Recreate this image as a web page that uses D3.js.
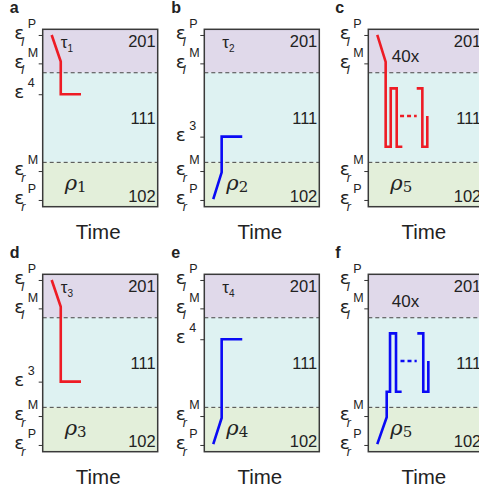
<!DOCTYPE html>
<html><head><meta charset="utf-8">
<script src="https://cdn.jsdelivr.net/npm/d3@7"></script>
<style>
html,body{margin:0;padding:0;background:#fff;}
svg{display:block;}
text{font-family:"Liberation Sans",Arial,Helvetica,sans-serif;fill:#222;}
</style></head>
<body>
<svg id="chart" width="479" height="494"></svg>
<script>
// ---------- data ----------
const panelLetters = ["a", "b", "c", "d", "e", "f"];
const panelLefts = [42.7, 204.3, 368.3, 42.7, 204.3, 368.3];
const panelTops = [29.3, 29.3, 29.3, 274.3, 274.3, 274.3];
const regionNames = ["201", "111", "102"];
const regionBounds = [[75.5, 100], [25, 75.5], [0, 25]];
const regionColors = ["#e0d9ea", "#def2f2", "#e3efda"];
const phaseBoundaries = [75.5, 25];
// strain levels (arbitrary units 0..100)
const levelValues = { lP: 96.8, lM: 80.8, e4: 63.4, e3: 39.5, rM: 20.1, rP: 3.8 };
const levelLabels = {
  lP: ["ε", "P", "l"], lM: ["ε", "M", "l"], e4: ["ε", "4", ""],
  e3: ["ε", "3", ""], rM: ["ε", "M", "r"], rP: ["ε", "P", "r"]
};
const panelTicks = [
  ["lP", "lM", "e4", "rM", "rP"],
  ["lP", "lM", "e3", "rM", "rP"],
  ["lP", "lM", "rM", "rP"],
  ["lP", "lM", "e3", "rM", "rP"],
  ["lP", "lM", "e4", "rM", "rP"],
  ["lP", "lM", "rM", "rP"]
];
const tauLabels = ["1", "2", null, "3", "4", null];
const rhoLabels = ["1", "2", "5", "3", "4", "5"];
const cycleLabel = [null, null, "40x", null, null, "40x"];
const lineColors = ["red", "blue", "red", "red", "blue", "blue"];

// strain paths: time (0..1) and strain
const pathTime = [
  [0.078, 0.157, 0.157, 0.333],
  [0.078, 0.151, 0.151, 0.330],
  [0.078, 0.151, 0.151, 0.195, 0.195, 0.247, 0.247, 0.296],
  [0.078, 0.157, 0.157, 0.333],
  [0.078, 0.151, 0.151, 0.330],
  [0.078, 0.160, 0.160, 0.189, 0.189, 0.241, 0.241, 0.290]
];
const pathStrain = [
  [96.8, 81.8, 63.4, 63.4],
  [4.3, 19.4, 39.5, 39.5],
  [96.8, 81.6, 33.8, 33.8, 66.7, 66.7, 33.8, 33.8],
  [96.8, 81.7, 39.5, 39.5],
  [4.3, 19.0, 63.4, 63.4],
  [4.3, 19.4, 33.8, 33.8, 66.7, 66.7, 33.8, 33.8]
];
// second cycle block (after the dots), only panels c and f
const path2Time = [null, null, [0.421, 0.470, 0.470, 0.513, 0.513], null, null, [0.426, 0.478, 0.478, 0.522, 0.522]];
const path2Strain = [null, null, [66.7, 66.7, 33.8, 33.8, 51.1], null, null, [66.7, 66.7, 33.8, 33.8, 51.1]];
const dotsTime = [null, null, [0.276, 0.421], null, null, [0.28, 0.421]];
const dotsStrain = [null, null, [51.1, 51.1], null, null, [51.1, 51.1]];

// ---------- drawing ----------
const W = 115, H = 177.4;
const colorMap = { red: "#ee1c25", blue: "#0a0af5" };
const svg = d3.select("#chart");

panelLetters.forEach((letter, i) => {
  const left = panelLefts[i], top = panelTops[i];
  const x = d3.scaleLinear().domain([0, 1]).range([0, W]);
  const y = d3.scaleLinear().domain([0, 100]).range([H, 0]);
  const g = svg.append("g").attr("transform", `translate(${left},${top})`);

  // regions
  regionBounds.forEach((b, k) => {
    g.append("rect").attr("x", 0).attr("y", y(b[1])).attr("width", W)
      .attr("height", y(b[0]) - y(b[1])).attr("fill", regionColors[k]);
  });
  // phase boundaries
  phaseBoundaries.forEach(v => {
    g.append("line").attr("x1", 0).attr("x2", W).attr("y1", y(v)).attr("y2", y(v))
      .attr("stroke", "#444").attr("stroke-width", 1).attr("stroke-dasharray", "4,3");
  });
  // region labels
  g.append("text").attr("x", W - 2).attr("y", 17.4).attr("text-anchor", "end")
    .attr("font-size", 16.5).text(regionNames[0]);
  g.append("text").attr("x", W - 2).attr("y", y((regionBounds[1][0] + regionBounds[1][1]) / 2) + 6.5)
    .attr("text-anchor", "end").attr("font-size", 16.5).text(regionNames[1]);
  g.append("text").attr("x", W - 2).attr("y", H - 5).attr("text-anchor", "end")
    .attr("font-size", 16.5).text(regionNames[2]);

  // labels tau / 40x / rho
  if (tauLabels[i]) {
    const t = g.append("text").attr("x", 18).attr("y", 18.5).attr("font-size", 17);
    t.append("tspan").text("τ");
    t.append("tspan").attr("font-size", 10).attr("dy", 4).text(tauLabels[i]);
  }
  if (cycleLabel[i]) {
    g.append("text").attr("x", 23.5).attr("y", 32.4).attr("font-size", 17).text(cycleLabel[i]);
  }
  const r = g.append("text").attr("x", 22).attr("y", 160.5)
    .style("font-family", "'DejaVu Serif','Liberation Serif',serif");
  r.append("tspan").attr("font-size", 21).attr("font-style", "italic").text("ρ");
  r.append("tspan").attr("font-size", 15).attr("dy", 2.5).text(rhoLabels[i]);

  // strain paths
  const line = d3.line().x(d => x(d[0])).y(d => y(d[1]));
  const col = colorMap[lineColors[i]];
  g.append("path").datum(d3.zip(pathTime[i], pathStrain[i])).attr("d", line)
    .attr("fill", "none").attr("stroke", col).attr("stroke-width", 2.6)
    .attr("stroke-linejoin", "miter");
  if (path2Time[i]) {
    g.append("path").datum(d3.zip(path2Time[i], path2Strain[i])).attr("d", line)
      .attr("fill", "none").attr("stroke", col).attr("stroke-width", 2.6);
    g.append("path").datum(d3.zip(dotsTime[i], dotsStrain[i])).attr("d", line)
      .attr("fill", "none").attr("stroke", col).attr("stroke-width", 2.6)
      .attr("stroke-dasharray", "4,3");
  }

  // frame
  g.append("rect").attr("x", 0).attr("y", 0).attr("width", W).attr("height", H)
    .attr("fill", "none").attr("stroke", "#3a3a3a").attr("stroke-width", 1.5);

  // y axis ticks
  const tickVals = panelTicks[i].map(k => levelValues[k]);
  const ax = g.append("g").call(d3.axisLeft(y).tickValues(tickVals).tickSize(4).tickFormat(""));
  ax.select(".domain").remove();
  ax.selectAll(".tick line").attr("stroke", "#333").attr("stroke-width", 1);

  panelTicks[i].forEach(k => {
    const yy = y(levelValues[k]);
    const lab = levelLabels[k];
    const t = g.append("text").attr("x", -28.5).attr("y", yy + 4.2);
    t.append("tspan").attr("font-size", 18.5)
      .style("font-family", "'DejaVu Sans','Liberation Sans',sans-serif").text(lab[0]);
    if (lab[2]) {
      t.append("tspan").attr("x", -21.5).attr("y", yy + 10.8).attr("font-size", 12.5)
        .attr("font-style", "italic").text(lab[2]);
    }
    t.append("tspan").attr("x", -15).attr("y", yy - 6.8).attr("font-size", 12.5).text(lab[1]);
  });

  // x axis label
  g.append("text").attr("x", W / 2 - 2).attr("y", H + 32.6).attr("text-anchor", "middle")
    .attr("font-size", 20.5).text("Time");

  // panel letter
  svg.append("text").attr("x", left - 33).attr("y", top - 16.5).attr("font-size", 16)
    .attr("font-weight", "bold").text(letter);
});
</script>
</body></html>
